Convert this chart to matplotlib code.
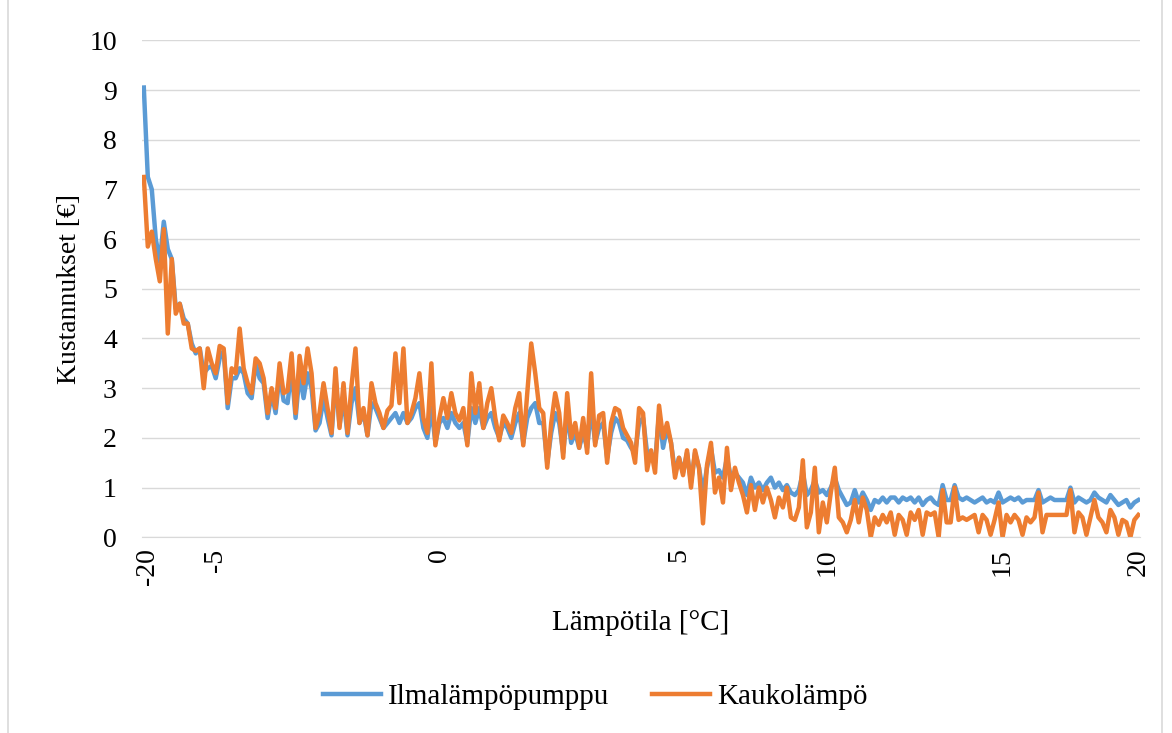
import matplotlib.pyplot as plt
from matplotlib.patches import Rectangle

plt.rcParams['font.family'] = ['Liberation Serif', 'DejaVu Serif']

# cost per temperature step (250 points, left to right)
ilp = [9.05, 7.25, 7.0, 6.0, 5.55, 6.35, 5.8, 5.6, 4.6, 4.7,
       4.4, 4.3, 3.9, 3.7, 3.8, 3.3, 3.4, 3.45, 3.2, 3.6,
       3.75, 2.6, 3.2, 3.2, 3.4, 3.3, 2.9, 2.8, 3.5, 3.2,
       3.1, 2.4, 2.9, 2.5, 3.3, 2.75, 2.7, 3.4, 2.4, 3.3,
       2.8, 3.3, 3.0, 2.15, 2.3, 2.8, 2.4, 2.05, 3.2, 2.25,
       2.8, 2.05, 2.7, 3.0, 2.3, 2.5, 2.05, 2.7, 2.6, 2.4,
       2.2, 2.3,
       2.4, 2.5, 2.3, 2.5, 2.3, 2.4, 2.6, 2.7, 2.2, 2.0,
       2.6, 1.9, 2.3, 2.4, 2.2, 2.5, 2.3, 2.2, 2.3, 1.9,
       2.6, 2.3, 2.6, 2.2, 2.4, 2.5, 2.2, 2.0, 2.3, 2.2,
       2.0, 2.3, 2.5, 1.9, 2.4, 2.6, 2.7, 2.3, 2.3, 1.5,
       2.1, 2.5, 2.3, 1.7, 2.5, 1.9, 2.1, 1.8, 2.1, 1.8,
       2.6, 1.9, 2.2, 2.3, 1.6, 2.1, 2.4, 2.3, 2.0, 1.95,
       1.8, 1.7, 2.3,
       2.4, 1.7, 1.7, 1.5, 2.5, 1.8, 2.2, 1.9, 1.3, 1.6,
       1.3, 1.7, 1.1, 1.7, 1.4, 0.9, 1.4, 1.8, 1.3, 1.35,
       1.2, 1.6, 1.2, 1.3, 1.2, 1.1, 0.85, 1.2, 1.0, 1.1,
       0.95, 1.1, 1.2, 1.0, 1.1, 0.95, 1.05, 0.9, 0.85, 0.95,
       1.3, 0.85, 0.95, 1.15, 0.9, 0.95, 0.85, 1.0, 1.2, 0.95,
       0.8, 0.65, 0.7, 0.95, 0.7, 0.9, 0.75, 0.55, 0.75, 0.7,
       0.8, 0.7, 0.8,
       0.8, 0.7, 0.8, 0.75, 0.8, 0.7, 0.8, 0.65, 0.75, 0.8,
       0.7, 0.65, 1.05, 0.75, 0.75, 1.05, 0.8, 0.75, 0.8, 0.75,
       0.7, 0.75, 0.8, 0.7, 0.75, 0.7, 0.9, 0.7, 0.75, 0.8,
       0.75, 0.8, 0.7, 0.75, 0.75, 0.75, 0.95, 0.7, 0.75, 0.8,
       0.75, 0.75, 0.75, 0.75, 1.0, 0.7, 0.8, 0.75, 0.7, 0.75,
       0.9, 0.8, 0.75, 0.7, 0.85, 0.75, 0.65, 0.7, 0.75, 0.6,
       0.7, 0.75]

kaukolampo = [7.25, 5.85, 6.15, 5.6, 5.15, 6.2, 4.1, 5.6, 4.5, 4.7,
              4.3, 4.3, 3.8, 3.75, 3.8, 3.0, 3.8, 3.5, 3.3, 3.85,
              3.8, 2.7, 3.4, 3.3, 4.2, 3.4, 3.1, 2.9, 3.6, 3.5,
              3.2, 2.5, 3.0, 2.6, 3.5, 2.9, 2.95, 3.7, 2.5, 3.65,
              3.1, 3.8, 3.3, 2.2, 2.5, 3.1, 2.6, 2.1, 3.4, 2.2,
              3.1, 2.1, 3.05, 3.8, 2.3, 2.6, 2.05, 3.1, 2.7, 2.5,
              2.2, 2.55,
              2.65, 3.7, 2.7, 3.8, 2.3, 2.5, 2.8, 3.3, 2.4, 2.1,
              3.5, 1.85, 2.4, 2.8, 2.4, 2.9, 2.5, 2.35, 2.6, 1.85,
              3.3, 2.5, 3.1, 2.2, 2.7, 3.0, 2.4, 1.95, 2.45, 2.3,
              2.1, 2.6, 2.9, 1.85, 2.9, 3.9, 3.3, 2.6, 2.5, 1.4,
              2.3, 2.9, 2.5, 1.6, 2.9, 2.0, 2.3, 1.8, 2.4, 1.7,
              3.3, 1.85, 2.45, 2.5, 1.5, 2.3, 2.6, 2.55, 2.2, 2.05,
              1.9, 1.5, 2.6,
              2.5, 1.35, 1.75, 1.3, 2.65, 2.0, 2.3, 1.9, 1.2, 1.6,
              1.25, 1.75, 1.0, 1.75, 1.4, 0.28, 1.45, 1.9, 0.9, 1.2,
              0.7, 1.8, 0.95, 1.4, 1.1, 0.85, 0.5, 1.05, 0.55, 1.0,
              0.7, 1.0, 0.75, 0.4, 0.8, 0.6, 1.0, 0.4, 0.35, 0.6,
              1.55, 0.2, 0.5, 1.4, 0.1, 0.7, 0.3, 0.9, 1.4, 0.4,
              0.3, 0.1, 0.35, 0.75, 0.3, 0.8, 0.55, 0.0, 0.4, 0.25,
              0.45, 0.3, 0.5,
              0.05, 0.45, 0.35, 0.05, 0.5, 0.35, 0.55, 0.05, 0.5, 0.45,
              0.5, 0.0, 0.95, 0.3, 0.3, 1.0, 0.35, 0.4, 0.35, 0.4,
              0.45, 0.1, 0.45, 0.35, 0.05, 0.35, 0.7, 0.0, 0.45, 0.3,
              0.45, 0.35, 0.05, 0.4, 0.3, 0.4, 0.9, 0.1, 0.45, 0.45,
              0.45, 0.45, 0.45, 0.45, 0.95, 0.1, 0.5, 0.4, 0.05, 0.4,
              0.75, 0.4, 0.3, 0.1, 0.55, 0.4, 0.05, 0.35, 0.3, 0.0,
              0.35, 0.45]

# category positions where Excel shows a label
tick_pos = [1, 18, 74, 134, 171, 215, 249]
tick_labels = ['-20', '-5', '0', '5', '10', '15', '20']

fig = plt.figure(figsize=(11.72, 7.33), dpi=100)
ax = fig.add_axes([0.121, 0.267, 0.852, 0.678])

x = range(len(ilp))
ax.plot(x, ilp, color='#5B9BD5', lw=3.2, label='Ilmalämpöpumppu', solid_joinstyle='round')
ax.plot(x, kaukolampo, color='#ED7D31', lw=3.2, label='Kaukolämpö', solid_joinstyle='round')

ax.set_xlim(-0.5, len(ilp) - 0.5)
ax.set_ylim(0, 10)
ax.set_yticks(range(0, 11))
ax.yaxis.grid(True, color='#d9d9d9', lw=1)
ax.set_axisbelow(True)
for s in ['top', 'right', 'left']:
    ax.spines[s].set_visible(False)
ax.spines['bottom'].set_color('#d9d9d9')
ax.tick_params(axis='y', length=0, labelsize=20, pad=18)
ax.set_xticks(tick_pos)
ax.set_xticklabels(tick_labels, rotation=90, fontsize=20)
ax.tick_params(axis='x', length=0, pad=8)

ax.set_xlabel('Lämpötila [°C]', fontsize=21, labelpad=18)
ax.set_ylabel('Kustannukset [€]', fontsize=20, labelpad=5)

fig.legend(loc='center', bbox_to_anchor=(0.508, 0.049), ncol=2, frameon=False,
           fontsize=21, handlelength=2.0, handletextpad=0.25, columnspacing=1.45)

fig.patches.append(Rectangle((8 / 1172, -0.01), 1154 / 1172, 1.02, transform=fig.transFigure,
                             fill=False, edgecolor='#d9d9d9', lw=1.2))

fig.savefig('out.png', dpi=100)
